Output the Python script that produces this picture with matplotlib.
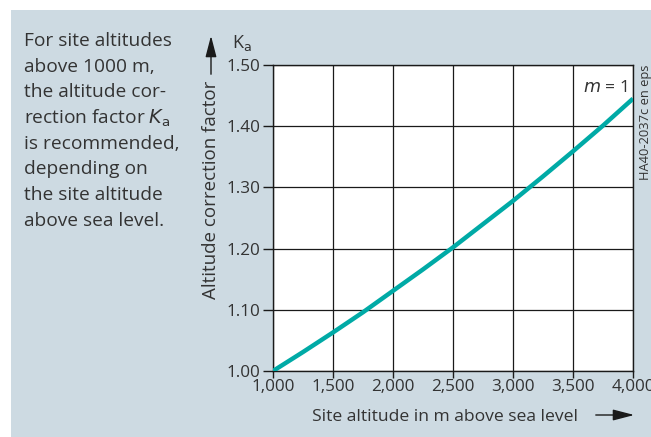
import matplotlib
matplotlib.use("Agg")
import matplotlib.pyplot as plt
from matplotlib.patches import Rectangle, FancyArrowPatch

# =========================================================
# DATA
# =========================================================

ALTITUDE = [1000, 1250, 1500, 1750, 2000, 2250, 2500, 2750, 3000, 3250, 3500, 3750, 4000]
KA = [1.000, 1.031, 1.063, 1.096, 1.131, 1.166, 1.202, 1.240, 1.278, 1.318, 1.359, 1.401, 1.445]

X_TICKS = [1000, 1500, 2000, 2500, 3000, 3500, 4000]
X_TICK_LABELS = ["1,000", "1,500", "2,000", "2,500", "3,000", "3,500", "4,000"]
Y_TICKS = [1.00, 1.10, 1.20, 1.30, 1.40, 1.50]
Y_TICK_LABELS = ["1.00", "1.10", "1.20", "1.30", "1.40", "1.50"]

# =========================================================
# STYLE
# =========================================================

PANEL_COLOR = "#cddae2"
CURVE_COLOR = "#00aaa6"
TEXT_COLOR = "#333333"
LINE_COLOR = "#1a1a1a"

plt.rcParams["font.family"] = ["Open Sans", "DejaVu Sans"]

W, H = 651, 437
fig = plt.figure(figsize=(W / 100, H / 100), dpi=100)
fig.patch.set_facecolor("white")

fig.patches.append(
    Rectangle((11 / W, 0), 1 - 11 / W, 1 - 10 / H,
              transform=fig.transFigure, facecolor=PANEL_COLOR,
              edgecolor="none", zorder=-10)
)

# plot area in pixels: x 273..633, y 65..371 (from top)
left, right, top, bottom = 273, 633, 65, 371
ax = fig.add_axes([left / W, 1 - bottom / H, (right - left) / W, (bottom - top) / H])
ax.set_facecolor("white")

ax.plot(ALTITUDE, KA, color=CURVE_COLOR, linewidth=3.2, solid_capstyle="butt", zorder=3)

ax.set_xlim(1000, 4000)
ax.set_ylim(1.0, 1.5)
ax.set_xticks(X_TICKS)
ax.set_xticklabels(X_TICK_LABELS)
ax.set_yticks(Y_TICKS)
ax.set_yticklabels(Y_TICK_LABELS)

ax.grid(True, color=LINE_COLOR, linewidth=0.9)
ax.set_axisbelow(True)

for spine in ax.spines.values():
    spine.set_color(LINE_COLOR)
    spine.set_linewidth(1.0)

ax.tick_params(axis="both", colors=LINE_COLOR, labelcolor=TEXT_COLOR,
               labelsize=12.3, width=1.0)
ax.tick_params(axis="y", length=7, pad=2)
ax.tick_params(axis="x", length=5, pad=1)

# =========================================================
# TEXT
# =========================================================

lines = [
    "For site altitudes",
    "above 1000 m,",
    "the altitude cor-",
    r"rection factor $\mathit{K}_\mathrm{a}$",
    "is recommended,",
    "depending on",
    "the site altitude",
    "above sea level.",
]
for i, line in enumerate(lines):
    fig.text(24 / W, 1 - (41 + i * 25.7) / H, line, fontsize=13.8,
             color=TEXT_COLOR, va="center", ha="left",
             math_fontfamily="dejavusans")

fig.text(211 / W, 1 - 190 / H, "Altitude correction factor", rotation=90,
         fontsize=13.5, color=TEXT_COLOR, ha="center", va="center")

fig.text(232 / W, 1 - 43 / H, r"K$_\mathrm{a}$", fontsize=13,
         color=TEXT_COLOR, ha="left", va="center")

fig.text(445 / W, 1 - 417 / H, "Site altitude in m above sea level",
         fontsize=12.6, color=TEXT_COLOR, ha="center", va="center")

fig.text(627 / W, 1 - 88 / H, r"$m$ = 1", fontsize=12.6,
         color=TEXT_COLOR, ha="right", va="center")

fig.text(646 / W, 1 - 122 / H, "HA40-2037c en eps", rotation=90,
         fontsize=9.3, color=TEXT_COLOR, ha="center", va="center")

# arrows
fig.add_artist(FancyArrowPatch(
    (211 / W, 1 - 77 / H), (211 / W, 1 - 33 / H),
    transform=fig.transFigure, arrowstyle="-|>,head_length=5,head_width=1.3",
    mutation_scale=2.6, color=LINE_COLOR, linewidth=1.0))

fig.add_artist(FancyArrowPatch(
    (593 / W, 1 - 415 / H), (637 / W, 1 - 415 / H),
    transform=fig.transFigure, arrowstyle="-|>,head_length=5,head_width=1.3",
    mutation_scale=2.6, color=LINE_COLOR, linewidth=1.0))

fig.savefig("out.png", dpi=100, facecolor=fig.get_facecolor())
